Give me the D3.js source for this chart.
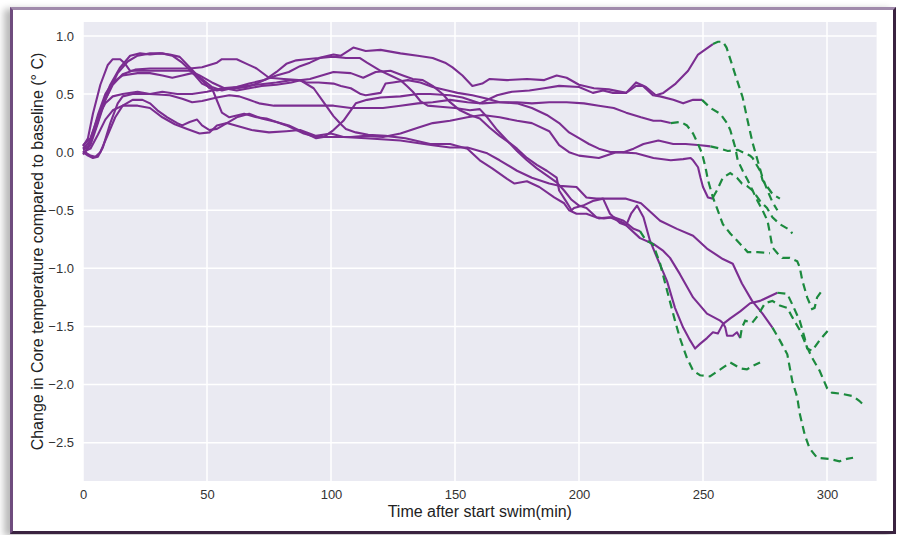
<!DOCTYPE html>
<html>
<head>
<meta charset="utf-8">
<script src="https://cdn.jsdelivr.net/npm/d3@7"></script>
<style>
  body { margin: 0; width: 897px; height: 535px; overflow: hidden; position: relative; background: #fff; }
  #frame {
    position: absolute; left: 10px; top: 7px; width: 880px; height: 521px;
    border: 3px solid #6f4c7e; border-top-color: #a08aab;
    border-right-color: #3a2340; border-bottom-color: #3a2340;
    box-shadow: -6px 2px 7px rgba(0,0,0,0.28); background: #fff;
  }
  #chart { position: absolute; left: 0; top: 0; }
  .tick text { font-family: "Liberation Sans", Arial, sans-serif; font-size: 13px; fill: #333; }
</style>
</head>
<body>
<div id="frame"></div>
<div id="chart"></div>
<script>
(function () {
  "use strict";

  // axis ticks
  const X_TICKS = [0, 50, 100, 150, 200, 250, 300];
  const Y_TICKS = [-2.5, -2.0, -1.5, -1.0, -0.5, 0.0, 0.5, 1.0];

  // [time (min), change in core temp (°C)] — swim part (solid) and after the swim (dashed)
  const swimmer1 = [[0,0.02],[2,0.04],[5,0.22],[8,0.42],[11,0.58],[15,0.73],[19,0.83],[23,0.85],[27,0.84],[31,0.85],[35,0.84],[39,0.82],[43,0.73],[47,0.64],[51,0.55],[54,0.53],[58,0.55],[62,0.55],[66,0.56],[70,0.59],[74,0.63],[78,0.69],[82,0.76],[86,0.79],[90,0.8],[95,0.81],[101,0.84],[104,0.83],[109,0.9],[114,0.87],[120,0.88],[128,0.85],[135,0.83],[141,0.81],[146,0.77],[149,0.73],[153,0.66],[157,0.57],[161,0.59],[164,0.63],[171,0.62],[179,0.63],[186,0.62],[191,0.66],[195,0.64],[200,0.58],[206,0.55],[212,0.54],[219,0.51],[223,0.6],[227,0.56],[231,0.49],[234,0.51],[239,0.59],[244,0.7],[248,0.84],[252,0.9],[254,0.93]];
  const swimmer1After = [[254,0.93],[256,0.95],[258,0.95],[259.5,0.9],[261,0.8],[262.5,0.7],[266,0.47],[268,0.27],[270,0.08],[272,-0.07],[274,-0.22],[276,-0.33],[278,-0.43],[280,-0.5]];

  const swimmer2 = [[0,0.05],[2,0.12],[4,0.33],[7,0.58],[10,0.75],[12,0.8],[15,0.8],[17,0.76],[19,0.7],[25,0.7],[35,0.7],[43,0.7],[47,0.66],[52,0.6],[57,0.55],[62,0.53],[67,0.55],[72,0.57],[78,0.58],[84,0.6],[88,0.62],[91.5,0.63],[101,0.69],[108,0.68],[113,0.64],[118,0.69],[124,0.7],[129,0.66],[133,0.63],[137,0.62],[141,0.57],[145,0.5],[148,0.43],[152,0.36],[156,0.32],[160,0.29],[164,0.21],[168,0.14],[172,0.08],[175,0.03],[179,-0.05],[183,-0.11],[187,-0.16],[191,-0.22],[192,-0.33],[195,-0.43],[197,-0.5],[198,-0.48],[201.6,-0.46],[205.6,-0.42],[209.7,-0.4],[212.5,-0.53],[216.5,-0.61],[219,-0.63],[221,-0.53],[223.4,-0.46],[226,-0.56],[228.6,-0.76],[231.5,-0.91],[235.5,-1.11],[238.7,-1.34],[242,-1.51],[244.8,-1.62],[246.8,-1.69],[248.8,-1.65],[251.6,-1.6],[254,-1.55],[256,-1.56],[258,-1.48],[261,-1.43],[265,-1.37],[269,-1.3],[273,-1.28],[277,-1.24],[280,-1.21]];
  const swimmer2After = [[280,-1.21],[284,-1.22],[286,-1.31],[289,-1.45],[291,-1.6],[292,-1.69],[294,-1.71],[297,-1.62],[301,-1.52]];

  const swimmer3 = [[0,0.0],[2,-0.03],[4,-0.05],[6,-0.04],[8,0.04],[11,0.25],[14,0.42],[16,0.48],[20,0.5],[27,0.5],[35,0.49],[40,0.46],[44,0.43],[48,0.44],[54,0.47],[59,0.49],[63,0.48],[67,0.45],[71,0.42],[77,0.4],[83,0.4],[90,0.4],[101,0.4],[108,0.38],[114,0.38],[121,0.38],[128,0.4],[135,0.42],[141,0.43],[148,0.45],[155,0.43],[161,0.42],[168,0.43],[175,0.43],[181,0.42],[188,0.43],[195,0.43],[202,0.42],[208,0.4],[214,0.38],[219,0.34],[225,0.3],[230,0.27],[233,0.27],[237,0.25]];
  const swimmer3After = [[237,0.25],[241,0.26],[243.5,0.23],[246,0.16],[248,0.07],[249.6,-0.01],[251,-0.13],[252,-0.24],[254,-0.39],[255.6,-0.48],[258,-0.62],[261,-0.7],[265,-0.79],[268,-0.86],[272,-0.86],[277,-0.87]];

  const swimmer4 = [[0,-0.02],[3,0.06],[6,0.25],[9,0.45],[12,0.58],[16,0.67],[21,0.71],[27,0.72],[35,0.72],[43,0.72],[48,0.73],[54,0.77],[56,0.8],[62,0.8],[66,0.76],[70,0.72],[75,0.64],[81,0.63],[87,0.62],[90,0.6],[95,0.6],[101,0.59],[104,0.57],[108,0.55],[112,0.5],[114,0.49],[120,0.51],[122,0.59],[125,0.6],[131,0.62],[136,0.6],[141,0.56],[147,0.53],[151,0.51],[157,0.49],[163,0.46],[168,0.43],[175,0.42],[181,0.38],[187,0.32],[192,0.25],[196,0.17],[200,0.12],[204,0.07],[208,0.03],[213,0.0],[218,0.0],[222,0.03],[226,0.07],[232,0.1],[238,0.07],[243,0.07],[249,0.06],[253,0.05]];
  const swimmer4After = [[253,0.05],[257,0.03],[260,0.01],[264,0.02],[266,0.0],[269,-0.03],[270,-0.05],[273,-0.16],[274,-0.24],[276,-0.3],[278,-0.36],[281,-0.4]];

  const swimmer5 = [[0,0.03],[3,0.1],[6,0.32],[9,0.5],[12,0.6],[16,0.66],[22,0.68],[27,0.68],[32,0.66],[36,0.64],[40,0.66],[44,0.68],[48,0.63],[52,0.56],[56,0.53],[62,0.56],[67,0.59],[73,0.62],[78,0.66],[83,0.69],[87.5,0.74],[91.5,0.77],[95.5,0.81],[99.6,0.82],[102,0.82],[106,0.81],[111.7,0.81],[114.5,0.77],[120,0.7],[124,0.66],[128,0.62],[130.6,0.57],[133,0.52],[136,0.44],[139,0.4],[144,0.39],[150,0.38],[156,0.36],[160,0.37],[163,0.3],[167,0.19],[171,0.1],[175,0.01],[179,-0.07],[183,-0.14],[187,-0.2],[191,-0.26],[194,-0.33],[197,-0.41],[200,-0.46],[203,-0.48],[207,-0.56],[210,-0.57],[214,-0.56],[218,-0.59],[222,-0.66],[224.6,-0.68]];
  const swimmer5After = [[224.6,-0.68],[227,-0.76],[229.8,-0.79],[232.7,-0.96],[235.5,-1.19],[238.7,-1.45],[240.7,-1.6],[243.5,-1.77],[246,-1.88],[248.8,-1.92],[252.8,-1.93],[257,-1.87],[261,-1.81],[265,-1.86],[267.7,-1.87],[270,-1.84],[273,-1.81]];

  const swimmer6 = [[0,0.03],[2,0.05],[5,0.2],[8,0.4],[11,0.55],[14,0.68],[18,0.78],[22,0.83],[27,0.85],[32,0.85],[36,0.83],[40,0.77],[44,0.69],[48,0.59],[52,0.55],[56,0.34],[59,0.3],[65,0.33],[70,0.3],[74,0.29],[78,0.26],[82,0.23],[85,0.2],[89,0.16],[94,0.13],[100,0.13],[108,0.13],[114,0.14],[121,0.13],[128,0.16],[135,0.21],[141,0.25],[148,0.27],[155,0.3],[161,0.32],[168,0.3],[175,0.27],[181,0.25],[188,0.18],[192,0.06],[196,0.0],[200,-0.03],[208,-0.05],[215,0.0],[223,-0.01],[230,-0.05],[237,-0.07],[242,-0.06],[245,-0.05],[246,-0.07],[248,-0.13],[249,-0.22],[250,-0.3],[252,-0.39],[254,-0.4]];
  const swimmer6After = [[254,-0.39],[255.6,-0.33],[258,-0.22],[261,-0.18],[263.7,-0.22],[265.7,-0.27],[267.7,-0.29],[270,-0.33],[273,-0.42],[275.8,-0.48],[278,-0.56],[281,-0.62],[285,-0.67],[286,-0.7]];

  const swimmer7 = [[0,0.01],[3,-0.03],[5,-0.04],[7,0.0],[10,0.15],[13,0.3],[16,0.4],[20,0.45],[24,0.45],[27,0.42],[30,0.36],[34,0.3],[38,0.25],[40,0.23],[43,0.26],[46,0.28],[48,0.23],[51,0.19],[54,0.2],[58,0.25],[62,0.3],[67,0.33],[72,0.29],[78,0.26],[83,0.23],[89,0.17],[94,0.12],[97,0.13],[101,0.19],[105,0.27],[108,0.36],[110,0.42],[114.5,0.45],[120,0.47],[128,0.48],[135,0.5],[140,0.5],[148,0.49],[153,0.47],[160,0.42],[167,0.49],[173,0.52],[180,0.53],[186,0.55],[192,0.57],[200,0.56],[205.6,0.51],[209.7,0.53],[213.7,0.51],[219,0.51],[223,0.57],[225.8,0.57],[229.8,0.49],[232.7,0.48],[238,0.45],[242,0.42],[246,0.45],[249.6,0.45]];
  const swimmer7After = [[249.6,0.45],[253,0.38],[257,0.33],[259.7,0.25],[261,0.19],[263,0.04],[264,-0.07],[266,-0.16],[268,-0.24],[270,-0.33],[272,-0.42],[274,-0.5],[276,-0.59],[277,-0.7],[278,-0.82],[280,-0.87],[282,-0.91],[285,-0.91],[288,-0.94],[289,-0.99],[290,-1.1],[292,-1.25],[294,-1.35],[295,-1.34],[296,-1.25],[298,-1.19]];

  const swimmer8 = [[0,0.0],[3,0.03],[6,0.15],[9,0.28],[12,0.36],[16,0.4],[22,0.4],[27,0.38],[32,0.3],[37,0.24],[42,0.2],[47,0.16],[51,0.17],[54,0.23],[58,0.25],[63,0.22],[68,0.19],[75,0.17],[82,0.18],[87.5,0.19],[94,0.14],[100,0.16],[105,0.13],[114,0.12],[128,0.1],[141,0.06],[148,0.04],[155,0.04],[163,-0.01],[168,-0.07],[175,-0.16],[181,-0.22],[188,-0.27],[192,-0.29],[199,-0.3],[203,-0.39],[207,-0.4],[219,-0.4],[225,-0.44],[232.7,-0.59],[239.5,-0.66],[246,-0.72],[251.6,-0.83],[258,-0.92],[262,-0.96],[265.7,-1.13],[269.8,-1.28],[274,-1.39],[278,-1.51]];
  const swimmer8After = [[278,-1.51],[281,-1.62],[284,-1.74],[286,-1.97],[288,-2.11],[289,-2.25],[291,-2.43],[293,-2.55],[296,-2.63],[301,-2.64],[305,-2.66],[308,-2.64],[310.5,-2.63]];

  const swimmer9 = [[0,0.06],[3,0.12],[6,0.3],[9,0.42],[12,0.48],[16,0.5],[22,0.52],[27,0.5],[32,0.52],[38,0.5],[44,0.5],[50,0.52],[56,0.55],[62,0.56],[70,0.58],[78,0.6],[84,0.62],[87.5,0.62],[93,0.55],[97,0.43],[101,0.31],[104,0.24],[106,0.2],[110,0.17],[115,0.15],[122,0.14],[130,0.12],[140,0.07],[148,0.07],[155,0.03],[160,-0.07],[165,-0.14],[171,-0.23],[174,-0.27],[179,-0.25],[184,-0.3],[190,-0.39],[194,-0.44],[196,-0.5],[199,-0.53],[203,-0.53],[208,-0.57],[212.5,-0.56],[218,-0.61],[224.6,-0.74],[230,-0.79],[234,-0.85],[236.7,-0.91],[240.7,-1.05],[246,-1.25],[251.6,-1.39],[256.9,-1.45],[258,-1.47],[259,-1.51],[259.7,-1.58],[262,-1.58],[263.7,-1.55],[265,-1.6]];
  const swimmer9After = [[265,-1.6],[265.7,-1.51],[267,-1.45],[269.8,-1.47],[272,-1.41],[275,-1.3],[278,-1.28],[281,-1.32],[284,-1.34],[286,-1.42],[289,-1.53],[292,-1.68],[294,-1.77],[297,-1.88],[300,-2.03],[302,-2.07],[306,-2.08],[310.5,-2.1],[313,-2.14],[315,-2.18]];

  const SWIM = [swimmer1, swimmer2, swimmer3, swimmer4, swimmer5, swimmer6, swimmer7, swimmer8, swimmer9];
  const AFTER = [swimmer1After, swimmer2After, swimmer3After, swimmer4After, swimmer5After, swimmer6After, swimmer7After, swimmer8After, swimmer9After];

  // layout, page pixels
  const width = 897;
  const height = 535;
  const plotLeft = 83;
  const plotRight = 876.6;
  const plotTop = 22;
  const plotBottom = 481;

  const svg = d3.select("#chart").append("svg")
    .attr("width", width)
    .attr("height", height);

  const x = d3.scaleLinear().domain([0, 320]).range([plotLeft, plotRight]);
  const y = d3.scaleLinear().domain([-2.83, 1.12]).range([plotBottom, plotTop]);

  // seaborn darkgrid background
  svg.append("rect")
    .attr("x", plotLeft)
    .attr("y", plotTop)
    .attr("width", plotRight - plotLeft)
    .attr("height", plotBottom - plotTop)
    .attr("fill", "#eaeaf2");

  // grid lines
  const grid = svg.append("g").attr("stroke", "#fff").attr("stroke-width", 1.5);
  grid.selectAll(".gx")
    .data(X_TICKS)
    .join("line")
    .attr("x1", (d) => x(d)).attr("x2", (d) => x(d))
    .attr("y1", plotTop).attr("y2", plotBottom);
  grid.selectAll(".gy")
    .data(Y_TICKS)
    .join("line")
    .attr("x1", plotLeft).attr("x2", plotRight)
    .attr("y1", (d) => y(d)).attr("y2", (d) => y(d));

  // axes (no domain, no tick marks)
  const xAxis = svg.append("g")
    .attr("transform", `translate(0,${plotBottom})`)
    .call(d3.axisBottom(x).tickValues(X_TICKS).tickSize(0).tickPadding(9));
  const yAxis = svg.append("g")
    .attr("transform", `translate(${plotLeft},0)`)
    .call(d3.axisLeft(y).tickValues(Y_TICKS).tickFormat(d3.format(".1f")).tickSize(0).tickPadding(9));
  xAxis.select(".domain").remove();
  yAxis.select(".domain").remove();

  const line = d3.line()
    .x((d) => x(d[0]))
    .y((d) => y(d[1]));

  // swim traces
  svg.append("g")
    .selectAll("path")
    .data(SWIM)
    .join("path")
    .attr("d", line)
    .attr("fill", "none")
    .attr("stroke", "#7b2d91")
    .attr("stroke-width", 2.1)
    .attr("stroke-linejoin", "round");

  // after swim, dashed
  svg.append("g")
    .selectAll("path")
    .data(AFTER)
    .join("path")
    .attr("d", line)
    .attr("fill", "none")
    .attr("stroke", "#1c8a3e")
    .attr("stroke-width", 2.2)
    .attr("stroke-dasharray", "8,5");

  // axis labels
  svg.append("text")
    .attr("x", (plotLeft + plotRight) / 2)
    .attr("y", 517)
    .attr("text-anchor", "middle")
    .attr("font-family", "Liberation Sans, Arial, sans-serif")
    .attr("font-size", 16)
    .attr("fill", "#222")
    .text("Time after start swim(min)");

  svg.append("text")
    .attr("transform", `translate(43,${(plotTop + plotBottom) / 2}) rotate(-90)`)
    .attr("text-anchor", "middle")
    .attr("font-family", "Liberation Sans, Arial, sans-serif")
    .attr("font-size", 16)
    .attr("fill", "#222")
    .text("Change in Core temperature compared to baseline (° C)");
})();
</script>
</body>
</html>
